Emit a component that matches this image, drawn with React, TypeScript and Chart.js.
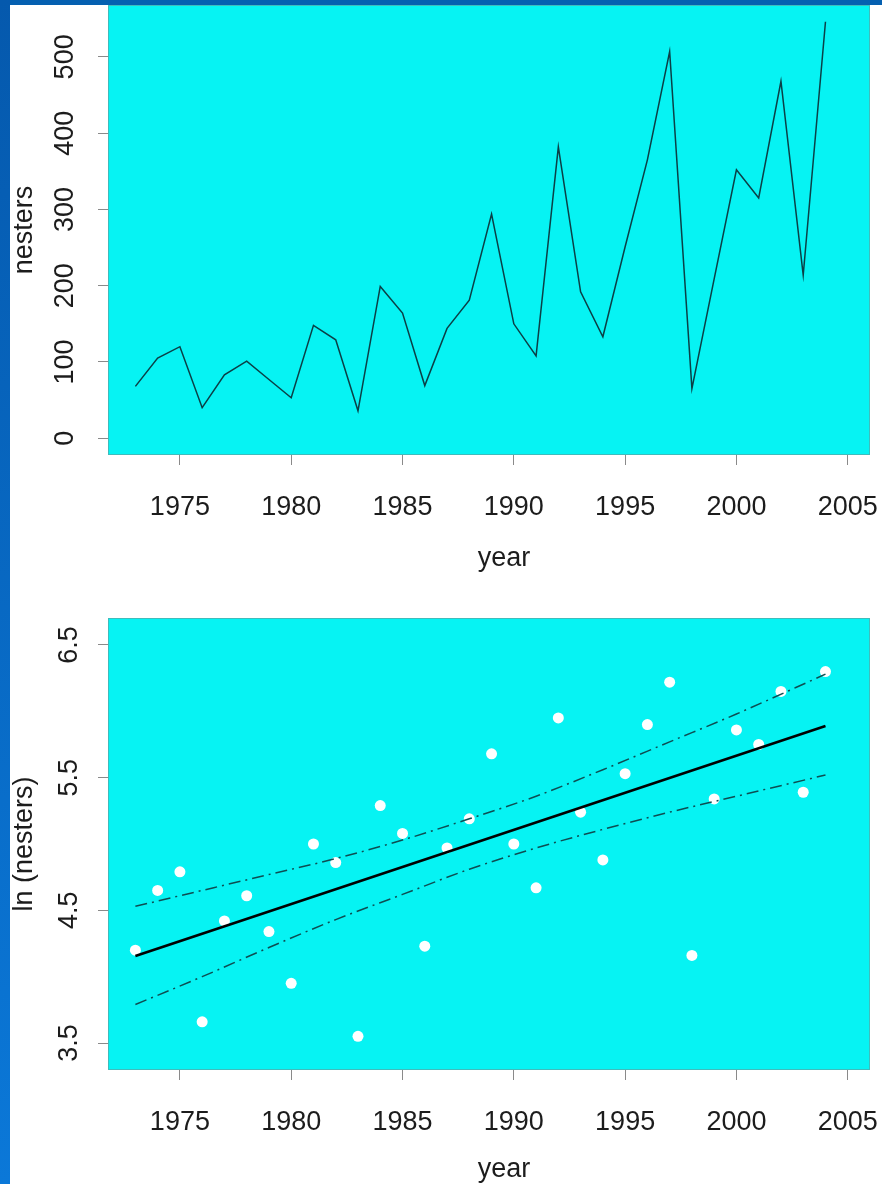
import React, { useEffect, useRef } from "react";
import { Chart, registerables } from "chart.js";

Chart.register(...registerables);

// ---------------- data ----------------
const years = [
  1973, 1974, 1975, 1976, 1977, 1978, 1979, 1980, 1981, 1982, 1983, 1984, 1985, 1986, 1987, 1988,
  1989, 1990, 1991, 1992, 1993, 1994, 1995, 1996, 1997, 1998, 1999, 2000, 2001, 2002, 2003, 2004,
];
const nesters = [
  68, 105, 120, 40, 83, 101, 77, 53, 148, 129, 36, 199, 164, 69, 144, 181,
  294, 150, 108, 382, 192, 133, 251, 365, 507, 65, 209, 352, 315, 468, 214, 546,
];
const lnNesters = [
  4.2, 4.65, 4.79, 3.66, 4.42, 4.61, 4.34, 3.95, 5.0, 4.86, 3.55, 5.29, 5.08, 4.23, 4.97, 5.19,
  5.68, 5.0, 4.67, 5.95, 5.24, 4.88, 5.53, 5.9, 6.22, 4.16, 5.34, 5.86, 5.75, 6.15, 5.39, 6.3,
];
const fitYears = [1973, 2004];
const fitLn = [4.156, 5.89];
const bandYears = [1973, 1976, 1979, 1982, 1985, 1988, 1991, 1994, 1997, 2000, 2004];
const upperBand = [4.53, 4.65, 4.77, 4.89, 5.03, 5.19, 5.36, 5.56, 5.77, 5.98, 6.28];
const lowerBand = [3.79, 4.0, 4.22, 4.43, 4.62, 4.81, 4.97, 5.11, 5.24, 5.36, 5.52];

const yearTicks = [1975, 1980, 1985, 1990, 1995, 2000, 2005];
const nesterTicks = [0, 100, 200, 300, 400, 500];
const lnTicks = [3.5, 4.5, 5.5, 6.5];

// ---------------- styles ----------------
const FONT = "'Liberation Sans', Arial, Helvetica, sans-serif";
const CYAN = "#06f3f3";
const TEXT = "#1c1c1c";
const TICK = "#8a8a8a";

const plotPlugin = {
  id: "plotBox",
  beforeDraw(chart: any) {
    const { ctx, chartArea: a } = chart;
    ctx.save();
    ctx.fillStyle = CYAN;
    ctx.fillRect(a.left, a.top, a.right - a.left, a.bottom - a.top);
    ctx.restore();
  },
  afterDraw(chart: any, _args: any, opts: any) {
    const { ctx, chartArea: a } = chart;
    ctx.save();
    ctx.strokeStyle = "#3fbcbc";
    ctx.lineWidth = 1;
    ctx.strokeRect(a.left + 0.5, a.top + 0.5, a.right - a.left - 1, a.bottom - a.top - 1);
    if (opts && opts.text) {
      ctx.fillStyle = TEXT;
      ctx.font = `27px ${FONT}`;
      ctx.textAlign = "center";
      ctx.textBaseline = "middle";
      ctx.fillText(opts.text, (a.left + a.right) / 2 + opts.dx, a.bottom + opts.dy);
    }
    ctx.restore();
  },
};

function xy(xs: number[], ys: number[]) {
  return xs.map((x, i) => ({ x, y: ys[i] }));
}

function zeroPad(scale: any) {
  scale.paddingLeft = 0;
  scale.paddingRight = 0;
  scale.paddingTop = 0;
  scale.paddingBottom = 0;
}

function baseOptions(p: {
  yMin: number;
  yMax: number;
  yTicks: number[];
  yTitle: string;
  padTop: number;
  xAxisHeight: number;
  titleDy: number;
}) {
  return {
    responsive: false,
    animation: false,
    devicePixelRatio: 1,
    layout: { padding: { left: 0, top: p.padTop, right: 12, bottom: 0 } },
    plugins: {
      legend: { display: false },
      tooltip: { enabled: false },
      plotBox: { text: "year", dx: 15, dy: p.titleDy },
    },
    scales: {
      x: {
        type: "linear",
        min: 1971.77,
        max: 2006,
        afterBuildTicks: (scale: any) => {
          scale.ticks = yearTicks.map((v) => ({ value: v }));
        },
        afterFit: (scale: any) => {
          scale.height = p.xAxisHeight;
          zeroPad(scale);
        },
        ticks: {
          callback: (v: any) => String(v),
          font: { family: FONT, size: 27 },
          color: TEXT,
          padding: 26,
          maxRotation: 0,
          minRotation: 0,
          autoSkip: false,
        },
        grid: { drawOnChartArea: false, drawTicks: true, tickLength: 10, color: TICK, lineWidth: 1 },
        border: { display: false },
      },
      y: {
        type: "linear",
        min: p.yMin,
        max: p.yMax,
        afterBuildTicks: (scale: any) => {
          scale.ticks = p.yTicks.map((v) => ({ value: v }));
        },
        afterFit: (scale: any) => {
          scale.width = 108;
          zeroPad(scale);
        },
        ticks: {
          callback: (v: any) => String(v),
          font: { family: FONT, size: 27 },
          color: TEXT,
          padding: 10,
          minRotation: 90,
          maxRotation: 90,
          crossAlign: "center",
          autoSkip: false,
        },
        title: {
          display: true,
          text: p.yTitle,
          font: { family: FONT, size: 27 },
          color: TEXT,
          padding: { top: 8, bottom: 0 },
        },
        grid: { drawOnChartArea: false, drawTicks: true, tickLength: 10, color: TICK, lineWidth: 1 },
        border: { display: false },
      },
    },
  };
}

function ChartCanvas({ config, top, height }: { config: () => any; top: number; height: number }) {
  const ref = useRef<HTMLCanvasElement | null>(null);
  useEffect(() => {
    if (!ref.current) return;
    const chart = new Chart(ref.current, config());
    return () => chart.destroy();
  }, []);
  return (
    <canvas
      ref={ref}
      width={882}
      height={height}
      style={{ position: "absolute", left: 0, top, width: 882, height, display: "block" }}
    />
  );
}

const topConfig = () => ({
  type: "line",
  data: {
    datasets: [
      {
        data: xy(years, nesters),
        borderColor: "#0b3f46",
        borderWidth: 1.5,
        pointRadius: 0,
        tension: 0,
        fill: false,
      },
    ],
  },
  options: baseOptions({
    yMin: -22,
    yMax: 568,
    yTicks: nesterTicks,
    yTitle: "nesters",
    padTop: 5,
    xAxisHeight: 137,
    titleDy: 104,
  }),
  plugins: [plotPlugin],
});

const bottomConfig = () => ({
  type: "line",
  data: {
    datasets: [
      {
        data: xy(bandYears, upperBand),
        borderColor: "#0e4d52",
        borderWidth: 1.5,
        borderDash: [12, 5, 2, 5],
        pointRadius: 0,
        cubicInterpolationMode: "monotone",
        fill: false,
      },
      {
        data: xy(bandYears, lowerBand),
        borderColor: "#0e4d52",
        borderWidth: 1.5,
        borderDash: [12, 5, 2, 5],
        pointRadius: 0,
        cubicInterpolationMode: "monotone",
        fill: false,
      },
      {
        data: xy(fitYears, fitLn),
        borderColor: "#000000",
        borderWidth: 2.6,
        pointRadius: 0,
        tension: 0,
        fill: false,
      },
      {
        data: xy(years, lnNesters),
        showLine: false,
        pointRadius: 5.5,
        pointBackgroundColor: "#ffffff",
        pointBorderColor: "#ffffff",
        pointBorderWidth: 0,
        borderColor: "#ffffff",
      },
    ],
  },
  options: baseOptions({
    yMin: 3.2965,
    yMax: 6.7035,
    yTicks: lnTicks,
    yTitle: "ln (nesters)",
    padTop: 26,
    xAxisHeight: 114,
    titleDy: 100,
  }),
  plugins: [plotPlugin],
});

export default function App() {
  return (
    <div
      style={{
        position: "fixed",
        left: 0,
        top: 0,
        width: 882,
        height: 1184,
        background: "#ffffff",
        overflow: "hidden",
      }}
    >
      <ChartCanvas config={topConfig} top={0} height={592} />
      <ChartCanvas config={bottomConfig} top={592} height={592} />
      <div
        style={{ position: "absolute", left: 0, top: 0, width: 882, height: 5, background: "#0560b0" }}
      />
      <div
        style={{
          position: "absolute",
          left: 0,
          top: 0,
          width: 10,
          height: 1184,
          background: "linear-gradient(#0559ad, #0b78d8)",
        }}
      />
    </div>
  );
}
